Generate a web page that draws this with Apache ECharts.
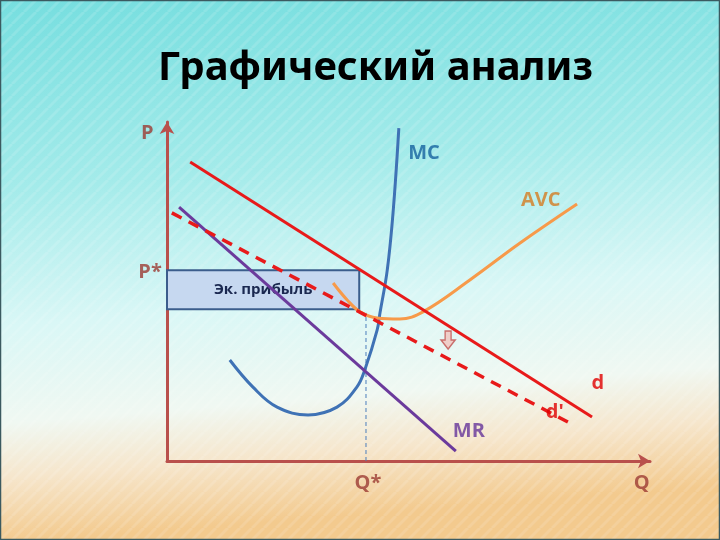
<!DOCTYPE html>
<html><head><meta charset="utf-8">
<script src="https://cdn.jsdelivr.net/npm/echarts@6/dist/echarts.min.js"></script>
<style>html,body{margin:0;padding:0;}#c{width:720px;height:540px;}</style>
</head><body><div id="c"></div>
<script>
// ---- data (economic units: Q on x, P on y, both 0..10) ----
const titleText = 'Графический анализ';
const dLine = [[0.48, 8.82], [8.80, 1.30]];
const dPrimeLine = [[0.10, 7.32], [8.30, 1.15]];
const mrLine = [[0.25, 7.49], [5.98, 0.29]];
const mcCurve = [[1.30, 2.98], [1.78, 2.18], [2.28, 1.59], [2.92, 1.36], [3.52, 1.59], [3.93, 2.18], [4.10, 2.71], [4.35, 3.86], [4.41, 4.37], [4.56, 5.63], [4.68, 7.32], [4.80, 9.82]];
const avcCurve = [[3.44, 5.25], [3.73, 4.75], [4.00, 4.40], [4.35, 4.22], [4.82, 4.19], [5.30, 4.40], [6.27, 5.34], [7.31, 6.43], [8.49, 7.58]];
const pStar = 5.63;
const profitLow = 4.48;
const profitRight = 3.98;
const qStar = 4.12;
const qStarTop = 4.37;
const shiftArrow = [5.82, 3.57];
const profitLabel = 'Эк. прибыль';
const labelTexts = ['P', 'P*', 'Q*', 'Q', 'MC', 'AVC', 'd', "d'", 'MR'];
const labelPos = [[-0.41, 9.68], [-0.35, 5.58], [4.16, -0.65], [9.83, -0.65], [5.32, 9.09], [7.74, 7.70], [8.92, 2.30], [8.03, 1.45], [6.25, 0.88]];
const labelColors = ['#9c3b33', '#9c3b33', '#9c3b33', '#9c3b33', '#16639f', '#d47c22', '#e00000', '#e00000', '#65359a'];

// stripe pattern
const pc = document.createElement('canvas');
pc.width = 12; pc.height = 12;
const g = pc.getContext('2d');
g.strokeStyle = 'rgba(255,255,255,0.13)';
g.lineWidth = 3;
for (let k = -12; k <= 24; k += 12) { g.beginPath(); g.moveTo(k, 12); g.lineTo(k + 12, 0); g.stroke(); }

const chart = echarts.init(document.getElementById('c'));
const lineSeries = (data, color, extra) => Object.assign({
  type: 'line', data: data, symbol: 'none', silent: true,
  lineStyle: { color: color, width: 3 }, z: 3
}, extra || {});

chart.setOption({
  animation: false,
  backgroundColor: {
    type: 'linear', x: 0, y: 0, x2: 0.06, y2: 1,
    colorStops: [
      { offset: 0, color: '#76dedf' },
      { offset: 0.35, color: '#a4ebea' },
      { offset: 0.6, color: '#d9f7f6' },
      { offset: 0.78, color: '#f0f8f2' },
      { offset: 0.88, color: '#f6e6cc' },
      { offset: 1, color: '#f3ca8e' }
    ]
  },
  graphic: [
    { type: 'rect', shape: { x: 0, y: 0, width: 720, height: 540 }, style: { fill: { image: pc, repeat: 'repeat' } }, silent: true, z: -10 },
    { type: 'rect', shape: { x: 0.5, y: 0.5, width: 719, height: 539 }, style: { fill: 'none', stroke: '#3b5a60', lineWidth: 1.5 }, silent: true, z: -9 }
  ],
  title: {
    text: titleText, left: 153, top: 44,
    textStyle: { fontFamily: 'Noto Sans', fontWeight: 'bold', fontSize: 40, color: '#000' }
  },
  grid: { left: 167, right: 70, top: 122, bottom: 79 },
  xAxis: {
    type: 'value', min: 0, max: 10,
    axisLine: { show: true, onZero: false, lineStyle: { color: '#b9504c', width: 3 }, symbol: ['none', 'arrow'], symbolSize: [11, 12] },
    axisTick: { show: false }, axisLabel: { show: false }, splitLine: { show: false }
  },
  yAxis: {
    type: 'value', min: 0, max: 10,
    axisLine: { show: true, onZero: false, lineStyle: { color: '#b9504c', width: 3 }, symbol: ['none', 'arrow'], symbolSize: [11, 12] },
    axisTick: { show: false }, axisLabel: { show: false }, splitLine: { show: false }
  },
  series: [
    {
      type: 'line', data: [], silent: true,
      markArea: {
        silent: true,
        itemStyle: { color: '#c6d8f0', borderColor: '#3b5d8c', borderWidth: 2 },
        label: { show: true, position: 'inside', color: '#1a2850', fontFamily: 'Open Sans', fontWeight: 'bold', fontSize: 15 },
        data: [[{ name: profitLabel, xAxis: 0, yAxis: profitLow }, { xAxis: profitRight, yAxis: pStar }]]
      }
    },
    lineSeries([[qStar, 0], [qStar, qStarTop]], '#4a7ebb', { lineStyle: { color: '#4a7ebb', width: 1, type: [4, 3] }, z: 2 }),
    lineSeries(mcCurve, '#3f72b5', { smooth: 0.4 }),
    lineSeries(avcCurve, '#f79a4a', { smooth: 0.4 }),
    lineSeries(mrLine, '#6b3a9c'),
    lineSeries(dLine, '#e81a1a'),
    lineSeries(dPrimeLine, '#e81a1a', { lineStyle: { color: '#e81a1a', width: 3.5, type: [11, 8] } }),
    {
      type: 'scatter', data: [shiftArrow], silent: true, z: 4,
      symbol: 'path://M4,0 L10,0 L10,9 L14,9 L7,18 L0,9 L4,9 Z', symbolSize: [14, 18],
      itemStyle: { color: '#f1c3bd', borderColor: '#c0504d', borderWidth: 1.5 }
    },
    {
      type: 'scatter', silent: true, clip: false, symbolSize: 0, z: 5,
      data: labelPos.map((p, i) => ({
        value: p,
        label: { show: true, position: 'inside', formatter: labelTexts[i], color: labelColors[i], fontFamily: 'Open Sans', fontWeight: 'bold', fontSize: 20 }
      }))
    }
  ]
});
</script></body></html>
